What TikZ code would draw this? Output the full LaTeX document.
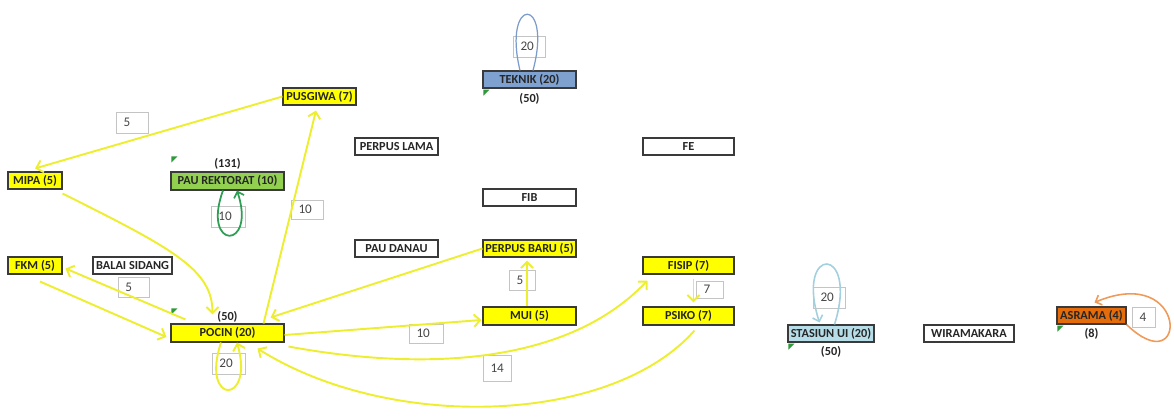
\documentclass[tikz,border=0pt]{standalone}
\usepackage{fontspec}
\setmainfont{Carlito}
\usetikzlibrary{positioning,arrows.meta}
\definecolor{ucYellow}{HTML}{FFFF00}
\definecolor{ucGreen}{HTML}{92D050}
\definecolor{ucBlue}{HTML}{7EA1D0}
\definecolor{ucAqua}{HTML}{B7DEE8}
\definecolor{ucOrange}{HTML}{E46C0A}
\definecolor{ucBorder}{HTML}{3A3A3A}
\definecolor{ucText}{HTML}{262626}
\definecolor{ucFlow}{HTML}{EEEE30}
\definecolor{ucLoopGreen}{HTML}{2F9E55}
\definecolor{ucLoopBlue}{HTML}{7B9BCB}
\definecolor{ucLoopAqua}{HTML}{A3D0DE}
\definecolor{ucLoopOrange}{HTML}{F09A5A}
\definecolor{ucLabelLine}{HTML}{C4C4C4}
\definecolor{ucTick}{HTML}{2E9A3A}

\begin{document}
\begin{tikzpicture}[x=0.02cm, y=-0.02cm,
  site/.style={draw=ucBorder, line width=0.6pt, inner sep=0pt,
    font=\fontsize{7}{8}\selectfont\bfseries, text=ucText},
  weight/.style={draw=ucLabelLine, line width=0.5pt, fill=white,
    inner ysep=0pt, inner xsep=0.15cm, align=left,
    font=\fontsize{7.5}{9}\selectfont, text=ucText!85},
  tally/.style={inner sep=0pt, font=\fontsize{7}{8}\selectfont\bfseries, text=ucText},
  flow/.style={ucFlow, line width=1.1pt, -{Straight Barb[length=3.5pt,width=7pt]}},
  selfloop/.style={line width=0.9pt, -{Straight Barb[length=3pt,width=6pt]}}]

\useasboundingbox (0,0) rectangle (1174,419);

% --- DATA: name / left / top / right / bottom / fill / text (pixels) ---
\def\sites{%
  pusgiwa/283/88/356/105/ucYellow/PUSGIWA (7),
  mipa/8/172/62/189/ucYellow/MIPA (5),
  rektorat/171/172/284/190/ucGreen/PAU REKTORAT (10),
  perpuslama/355/138/438/155/white/PERPUS LAMA,
  teknik/483/71/576/88/ucBlue/TEKNIK (20),
  fe/643/138/734/155/white/FE,
  fib/483/189/576/206/white/FIB,
  paudanau/355/240/438/257/white/PAU DANAU,
  perpusbaru/483/240/576/257/ucYellow/PERPUS BARU (5),
  fkm/8/257/62/274/ucYellow/FKM (5),
  balai/93/257/172/274/white/BALAI SIDANG,
  fisip/643/257/734/274/ucYellow/FISIP (7),
  mui/483/307/576/325/ucYellow/MUI (5),
  psiko/643/307/734/325/ucYellow/PSIKO (7),
  pocin/171/324/284/342/ucYellow/POCIN (20),
  stasiun/788/325/874/342/ucAqua/STASIUN UI (20),
  wiramakara/924/325/1014/342/white/WIRAMAKARA,
  asrama/1057/307/1126/324/ucOrange/ASRAMA (4)%
}
% weights: name / left / top / right / bottom / value
\def\weights{%
  wA/116/112/148/133/5, wB/211/206/245/227/10, wC/291/200/323/219/10,
  wD/118/277/149/297/5, wE/212/353/245/374/20, wF/513/36/545/57/20,
  wG/509/270/535/290/5, wH/409/324/443/343/10, wI/483/355/511/381/14,
  wJ/696/281/723/298/7, wK/813/287/845/308/20, wL/1132/307/1155/327/4%
}

% --- LOCATIONS ---
\foreach \nm/\xa/\ya/\xb/\yb/\fc/\txt in \sites {
  \pgfmathsetmacro\bw{(\xb-\xa)*0.02}
  \pgfmathsetmacro\bh{(\yb-\ya)*0.02}
  \node[site, fill=\fc, minimum width=\bw cm, minimum height=\bh cm]
    (\nm) at ({(\xa+\xb)/2},{(\ya+\yb)/2}) {\txt};
}

% --- TOTALS ---
\node[tally, above=0.04cm of rektorat] (rektoratsum) {(131)};
\node[tally, above=0.02cm of pocin] (pocinsum) {(50)};
\node[tally, below=0.08cm of teknik] (tekniksum) {(50)};
\node[tally, below=0.06cm of stasiun] (stasiunsum) {(50)};
\node[tally, below=0.06cm of asrama] (asramasum) {(8)};

% small green corner marks (anchor / lift in px)
\foreach \c/\dy in {teknik.south west/0, stasiun.south west/0, asrama.south west/0,
                    rektorat.north west/16, pocin.north west/16}
  \fill[ucTick] (\c) ++(1,{1-\dy}) -- ++(6,0) -- ++(-6,6) -- cycle;

% --- WEIGHTS ---
\foreach \nm/\xa/\ya/\xb/\yb/\txt in \weights {
  \pgfmathsetmacro\lw{(\xb-\xa)*0.02-0.3}
  \pgfmathsetmacro\bh{(\yb-\ya)*0.02}
  \node[weight, text width=\lw cm, minimum height=\bh cm]
    (\nm) at ({(\xa+\xb)/2},{(\ya+\yb)/2}) {\txt};
}

% --- FLOWS ---
\draw[flow] (pusgiwa.west) -- ([yshift=0.06cm]mipa.north);
\draw[flow] ([yshift=-0.08cm]mipa.south east)
  .. controls +(110,55) and +(0,-45) .. ([xshift=-0.3cm,yshift=0.18cm]pocin.north);
\draw[flow] ([xshift=-0.42cm]pocin.north east) -- ([xshift=-0.07cm,yshift=-0.1cm]pusgiwa.south);
\draw[flow] ([xshift=0.3cm,yshift=0.08cm]pocin.north west) -- ([xshift=0.06cm,yshift=-0.06cm]fkm.east);
\draw[flow] ([xshift=0.1cm,yshift=-0.14cm]fkm.south) -- ([xshift=-0.08cm,yshift=-0.08cm]pocin.west);
\draw[flow] (perpusbaru.west) -- ([xshift=-0.28cm,yshift=0.12cm]pocin.north east);
\draw[flow] ([yshift=-0.04cm]pocin.east) -- ([xshift=-0.02cm,yshift=-0.08cm]mui.west);
\draw[flow] ([xshift=0.08cm,yshift=-0.08cm]pocin.south east)
  .. controls +(142,26) and +(-78,82) .. ([xshift=0.1cm,yshift=-0.12cm]fisip.south west);
\draw[flow] ([xshift=0.12cm,yshift=-0.1cm]psiko.south)
  .. controls +(-84,95) and +(132,83) .. ([xshift=0.6cm,yshift=-0.12cm]pocin.south);
\draw[flow] ([xshift=-0.05cm]mui.north) -- ([xshift=-0.05cm,yshift=-0.06cm]perpusbaru.south);
\draw[flow] ([xshift=0.1cm,yshift=-0.08cm]fisip.south) -- ([xshift=0.1cm,yshift=0.08cm]psiko.north);

% --- SELF LOOPS ---
\draw[flow] ([xshift=-0.13cm]pocin.south)
  .. controls +(-21,63) and +(18,63) .. ([xshift=0.19cm]pocin.south);
\draw[selfloop, ucLoopGreen, line width=1pt] ([xshift=-0.09cm]rektorat.south)
  .. controls +(-22,60) and +(20,60) .. ([xshift=0.19cm]rektorat.south);
\draw[selfloop, ucLoopBlue, line width=0.7pt, -] ([xshift=-0.19cm]teknik.north)
  .. controls +(-18,-75) and +(20,-75) .. ([xshift=0.07cm]teknik.north);
\draw[selfloop, ucLoopAqua] ([xshift=0.07cm]stasiun.north)
  .. controls +(25,-80) and +(-25,-78) .. ([xshift=-0.23cm,yshift=0.04cm]stasiun.north);
\draw[selfloop, ucLoopOrange] (asrama.south east)
  .. controls +(62,60) and +(95,-40) .. ([xshift=0.06cm,yshift=0.08cm]asrama.north);

\end{tikzpicture}
\end{document}
